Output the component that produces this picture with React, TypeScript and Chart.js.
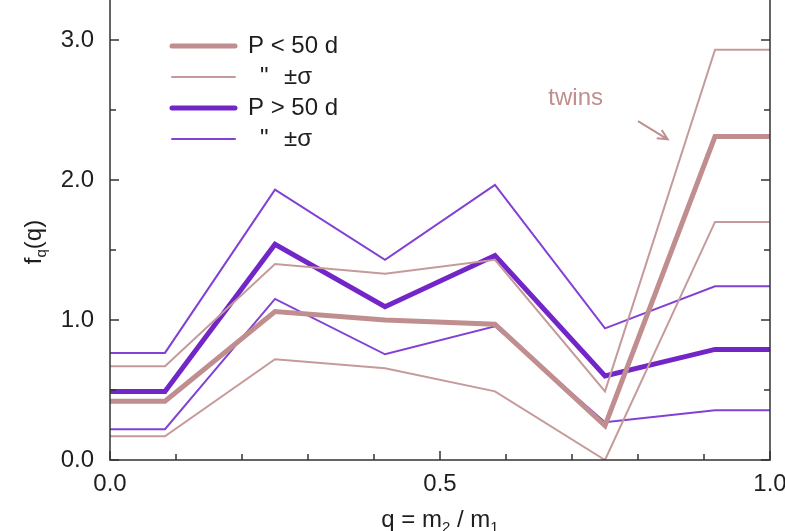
import React, { useEffect, useRef } from "react";
import { Chart, registerables } from "chart.js";

Chart.register(...registerables);

const qValues = [0, 0.0833, 0.25, 0.4167, 0.5833, 0.75, 0.9167, 1.0];
const shortMid = [0.42, 0.42, 1.06, 1.0, 0.97, 0.245, 2.31, 2.31];
const shortHigh = [0.67, 0.67, 1.4, 1.33, 1.43, 0.49, 2.93, 2.93];
const shortLow = [0.17, 0.17, 0.72, 0.655, 0.49, 0.0, 1.7, 1.7];
const longMid = [0.49, 0.49, 1.54, 1.095, 1.46, 0.6, 0.79, 0.79];
const longHigh = [0.765, 0.765, 1.93, 1.43, 1.965, 0.94, 1.24, 1.24];
const longLow = [0.22, 0.22, 1.15, 0.755, 0.955, 0.27, 0.355, 0.355];

const yTickValues = [0, 1, 2, 3];
const yMinorTicks = [0.5, 1.5, 2.5];
const xTickValues = [0, 0.5, 1];
const xMinorTicks = [0.1, 0.2, 0.3, 0.4, 0.6, 0.7, 0.8, 0.9];

const legendLabels = ["P < 50 d", "\"  ±σ", "P > 50 d", "\"  ±σ"];

const BROWN = "#c08e8e";
const BROWN_THIN = "#c69a9a";
const PURPLE = "#7326c8";
const PURPLE_THIN = "#8240d4";
const FONT = "'Liberation Sans', Arial, sans-serif";
const TEXT = "#1e1e1e";

const toPts = (arr: number[]) => arr.map((y, i) => ({ x: qValues[i], y }));

export default function App() {
  const ref = useRef<HTMLCanvasElement | null>(null);
  useEffect(() => {
    document.body.style.margin = "0";
    const canvas = ref.current!;
    const decor = {
      id: "decor",
      afterDatasetsDraw(chart: any) {
        const ctx = chart.ctx;
        const { left, right, top, bottom } = chart.chartArea;
        const xs = chart.scales.x;
        const ys = chart.scales.y;
        ctx.save();
        ctx.strokeStyle = "#333";
        ctx.lineWidth = 1.5;
        ctx.beginPath();
        ctx.moveTo(left, top);
        ctx.lineTo(left, bottom);
        ctx.lineTo(right, bottom);
        ctx.lineTo(right, top);
        ctx.stroke();
        const yt = (v: number, len: number) => {
          const p = ys.getPixelForValue(v);
          ctx.beginPath();
          ctx.moveTo(left, p);
          ctx.lineTo(left + len, p);
          ctx.moveTo(right, p);
          ctx.lineTo(right - len, p);
          ctx.stroke();
        };
        yTickValues.forEach((v) => yt(v, 9));
        yMinorTicks.forEach((v) => yt(v, 6));
        const xt = (v: number, len: number) => {
          const p = xs.getPixelForValue(v);
          ctx.beginPath();
          ctx.moveTo(p, bottom);
          ctx.lineTo(p, bottom - len);
          ctx.stroke();
        };
        xTickValues.forEach((v) => xt(v, 9));
        xMinorTicks.forEach((v) => xt(v, 6));

        const legendStyles = [
          { color: BROWN, width: 5 },
          { color: BROWN_THIN, width: 2 },
          { color: PURPLE, width: 5 },
          { color: PURPLE_THIN, width: 2 },
        ];
        ctx.font = `24px ${FONT}`;
        ctx.textBaseline = "middle";
        ctx.textAlign = "left";
        legendLabels.forEach((lab, i) => {
          const yy = top + 46 + i * 31;
          const st = legendStyles[i];
          ctx.strokeStyle = st.color;
          ctx.lineWidth = st.width;
          ctx.lineCap = "round";
          ctx.beginPath();
          ctx.moveTo(left + 62, yy);
          ctx.lineTo(left + 125, yy);
          ctx.stroke();
          ctx.fillStyle = TEXT;
          if (lab.startsWith("\"")) {
            ctx.fillText("\"", left + 150, yy);
            ctx.fillText("±σ", left + 174, yy);
          } else {
            ctx.fillText(lab, left + 138, yy);
          }
        });
        ctx.lineCap = "butt";

        ctx.fillStyle = BROWN;
        ctx.textAlign = "right";
        ctx.font = `24px ${FONT}`;
        ctx.fillText("twins", xs.getPixelForValue(0.747), ys.getPixelForValue(2.58));
        const ax0 = xs.getPixelForValue(0.8), ay0 = ys.getPixelForValue(2.42);
        const ax1 = xs.getPixelForValue(0.845), ay1 = ys.getPixelForValue(2.29);
        ctx.strokeStyle = BROWN;
        ctx.lineWidth = 2;
        ctx.beginPath();
        ctx.moveTo(ax0, ay0);
        ctx.lineTo(ax1, ay1);
        const ang = Math.atan2(ay1 - ay0, ax1 - ax0);
        const h = 11;
        ctx.moveTo(ax1 - h * Math.cos(ang - 0.45), ay1 - h * Math.sin(ang - 0.45));
        ctx.lineTo(ax1, ay1);
        ctx.lineTo(ax1 - h * Math.cos(ang + 0.45), ay1 - h * Math.sin(ang + 0.45));
        ctx.stroke();

        ctx.fillStyle = TEXT;
        ctx.textBaseline = "alphabetic";
        ctx.textAlign = "left";
        const parts: [string, boolean][] = [["q = m", false], ["2", true], [" / m", false], ["1", true]];
        const big = `24px ${FONT}`, small = `15px ${FONT}`;
        let w = 0;
        parts.forEach(([t, s]) => { ctx.font = s ? small : big; w += ctx.measureText(t).width; });
        let x = (left + right) / 2 - w / 2;
        const by = 527;
        parts.forEach(([t, s]) => {
          ctx.font = s ? small : big;
          ctx.fillText(t, x, s ? by + 5 : by);
          x += ctx.measureText(t).width;
        });
        ctx.save();
        ctx.translate(41, 242);
        ctx.rotate(-Math.PI / 2);
        const yparts: [string, boolean][] = [["f", false], ["q", true], ["(q)", false]];
        let wy = 0;
        yparts.forEach(([t, s]) => { ctx.font = s ? small : big; wy += ctx.measureText(t).width; });
        let xx = -wy / 2;
        yparts.forEach(([t, s]) => {
          ctx.font = s ? small : big;
          ctx.fillText(t, xx, s ? 5 : 0);
          xx += ctx.measureText(t).width;
        });
        ctx.restore();
        ctx.restore();
      },
    };

    const mk = (label: string, data: number[], color: string, width: number) => ({
      label,
      data: toPts(data),
      borderColor: color,
      backgroundColor: color,
      borderWidth: width,
      pointRadius: 0,
      fill: false,
      tension: 0,
    });

    const chart = new Chart(canvas, {
      type: "line",
      data: {
        datasets: [
          mk("P < 50 d", shortMid, BROWN, 5),
          mk("P < 50 d +σ", shortHigh, BROWN_THIN, 2),
          mk("P < 50 d -σ", shortLow, BROWN_THIN, 2),
          mk("P > 50 d", longMid, PURPLE, 5),
          mk("P > 50 d +σ", longHigh, PURPLE_THIN, 2),
          mk("P > 50 d -σ", longLow, PURPLE_THIN, 2),
        ],
      },
      options: {
        responsive: false,
        animation: false,
        layout: { padding: { top: 0, right: 15, left: 0, bottom: 0 } },
        plugins: { legend: { display: false }, tooltip: { enabled: false } },
        scales: {
          x: {
            type: "linear",
            min: 0,
            max: 1,
            grid: { display: false, drawTicks: false },
            border: { display: false },
            afterBuildTicks: (s: any) => { s.ticks = xTickValues.map((v) => ({ value: v })); },
            afterFit: (s: any) => { s.height = 71; s.paddingLeft = 0; s.paddingRight = 0; },
            ticks: {
              padding: 10,
              color: TEXT,
              font: { family: FONT, size: 24 },
              maxRotation: 0,
              callback: (v: any) => Number(v).toFixed(1),
            },
          },
          y: {
            type: "linear",
            min: 0,
            max: 3.285,
            grid: { display: false, drawTicks: false },
            border: { display: false },
            afterBuildTicks: (s: any) => { s.ticks = yTickValues.map((v) => ({ value: v })); },
            afterFit: (s: any) => { s.width = 110; s.paddingTop = 0; s.paddingBottom = 0; },
            ticks: {
              padding: 16,
              color: TEXT,
              font: { family: FONT, size: 24 },
              callback: (v: any) => Number(v).toFixed(1),
            },
          },
        },
      },
      plugins: [decor],
    } as any);
    return () => chart.destroy();
  }, []);
  return (
    <div style={{ position: "absolute", left: 0, top: 0, width: 785, height: 531, background: "#fff" }}>
      <canvas ref={ref} width={785} height={531} />
    </div>
  );
}
